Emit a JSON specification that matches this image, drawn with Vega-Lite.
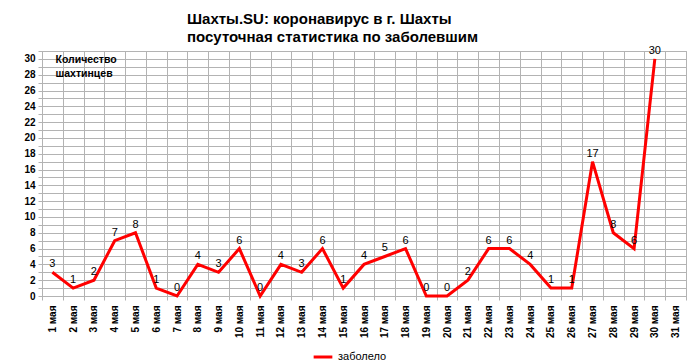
{
  "$schema": "https://vega.github.io/schema/vega-lite/v6.json",
  "width": 644,
  "height": 245,
  "autosize": {"type": "none"},
  "padding": {"left": 42, "top": 51, "right": 14, "bottom": 68},
  "background": "white",
  "title": {
    "text": ["Шахты.SU: коронавирус в г. Шахты", "посуточная статистика по заболевшим"],
    "anchor": "start",
    "frame": "group",
    "dx": 145,
    "offset": 0,
    "font": "Liberation Sans Narrow, Liberation Sans",
    "fontSize": 15,
    "fontWeight": "bold",
    "color": "black",
    "lineHeight": 18
  },
  "config": {
    "view": {"stroke": "#b3b3b3", "strokeWidth": 1},
    "font": "Liberation Sans"
  },
  "data": {
    "values": [
      {"day": "1 мая", "value": 3, "series": "заболело"},
      {"day": "2 мая", "value": 1, "series": "заболело"},
      {"day": "3 мая", "value": 2, "series": "заболело"},
      {"day": "4 мая", "value": 7, "series": "заболело"},
      {"day": "5 мая", "value": 8, "series": "заболело"},
      {"day": "6 мая", "value": 1, "series": "заболело"},
      {"day": "7 мая", "value": 0, "series": "заболело"},
      {"day": "8 мая", "value": 4, "series": "заболело"},
      {"day": "9 мая", "value": 3, "series": "заболело"},
      {"day": "10 мая", "value": 6, "series": "заболело"},
      {"day": "11 мая", "value": 0, "series": "заболело"},
      {"day": "12 мая", "value": 4, "series": "заболело"},
      {"day": "13 мая", "value": 3, "series": "заболело"},
      {"day": "14 мая", "value": 6, "series": "заболело"},
      {"day": "15 мая", "value": 1, "series": "заболело"},
      {"day": "16 мая", "value": 4, "series": "заболело"},
      {"day": "17 мая", "value": 5, "series": "заболело"},
      {"day": "18 мая", "value": 6, "series": "заболело"},
      {"day": "19 мая", "value": 0, "series": "заболело"},
      {"day": "20 мая", "value": 0, "series": "заболело"},
      {"day": "21 мая", "value": 2, "series": "заболело"},
      {"day": "22 мая", "value": 6, "series": "заболело"},
      {"day": "23 мая", "value": 6, "series": "заболело"},
      {"day": "24 мая", "value": 4, "series": "заболело"},
      {"day": "25 мая", "value": 1, "series": "заболело"},
      {"day": "26 мая", "value": 1, "series": "заболело"},
      {"day": "27 мая", "value": 17, "series": "заболело"},
      {"day": "28 мая", "value": 8, "series": "заболело"},
      {"day": "29 мая", "value": 6, "series": "заболело"},
      {"day": "30 мая", "value": 30, "series": "заболело"}
    ]
  },
  "encoding": {
    "x": {
      "field": "day",
      "type": "ordinal",
      "sort": null,
      "scale": {
        "type": "band",
        "paddingInner": 0,
        "paddingOuter": 0,
        "domain": ["1 мая","2 мая","3 мая","4 мая","5 мая","6 мая","7 мая","8 мая","9 мая","10 мая","11 мая","12 мая","13 мая","14 мая","15 мая","16 мая","17 мая","18 мая","19 мая","20 мая","21 мая","22 мая","23 мая","24 мая","25 мая","26 мая","27 мая","28 мая","29 мая","30 мая","31 мая"]
      },
      "axis": {
        "title": null,
        "tickBand": "extent",
        "grid": true,
        "gridColor": "#b3b3b3",
        "gridWidth": 1,
        "domainColor": "#b3b3b3",
        "tickColor": "#b3b3b3",
        "tickSize": 4,
        "labelAngle": -90,
        "labelAlign": "right",
        "labelBaseline": "middle",
        "labelFont": "Liberation Sans",
        "labelFontSize": 10,
        "labelFontWeight": "bold",
        "labelColor": "black",
        "labelPadding": 5
      }
    },
    "y": {
      "field": "value",
      "type": "quantitative",
      "scale": {"domain": [0, 31], "nice": false, "zero": true},
      "axis": {
        "values": [0,1,2,3,4,5,6,7,8,9,10,11,12,13,14,15,16,17,18,19,20,21,22,23,24,25,26,27,28,29,30,31],
        "labelExpr": "datum.value % 2 == 0 ? datum.label : ''",
        "title": ["Количество", "шахтинцев"],
        "titleAngle": 0,
        "titleAlign": "left",
        "titleBaseline": "middle",
        "titleX": 13,
        "titleY": 8,
        "titleFont": "Liberation Sans",
        "titleFontSize": 10.5,
        "titleFontWeight": "bold",
        "titleColor": "black",
        "titleLineHeight": 14,
        "grid": true,
        "gridColor": "#b3b3b3",
        "domainColor": "#b3b3b3",
        "tickColor": "#b3b3b3",
        "tickSize": 4,
        "labelFont": "Liberation Sans",
        "labelFontSize": 10,
        "labelFontWeight": "bold",
        "labelColor": "black",
        "labelPadding": 3
      }
    }
  },
  "layer": [
    {
      "mark": {"type": "line", "strokeWidth": 3},
      "encoding": {
        "color": {
          "field": "series",
          "type": "nominal",
          "scale": {"range": ["#ff0000"]},
          "legend": {
            "title": null,
            "orient": "none",
            "legendX": 270,
            "legendY": 295,
            "symbolType": "stroke",
            "symbolStrokeWidth": 3,
            "symbolSize": 350,
            "labelFont": "Liberation Sans",
            "labelFontSize": 11,
            "labelColor": "black"
          }
        }
      }
    },
    {
      "mark": {"type": "text", "baseline": "bottom", "dy": -3, "fontSize": 11, "color": "black", "font": "Liberation Sans"},
      "encoding": {
        "text": {"field": "value", "type": "quantitative"}
      }
    }
  ]
}
